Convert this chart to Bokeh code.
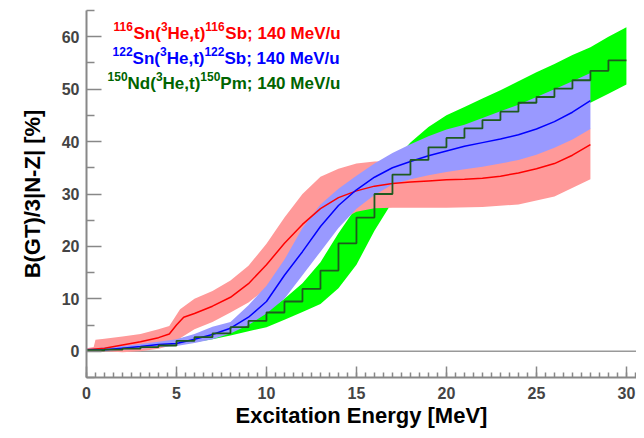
from bokeh.plotting import figure
from bokeh.models import Range1d, Label, Span, FixedTicker
from bokeh.embed import file_html
from bokeh.resources import INLINE

# ---------------- data ----------------
# 116Sn(3He,t)116Sb  (red)
red_x = [0, 1, 2, 3, 4, 4.6, 5.0, 5.4, 6, 7, 8, 9, 10, 11, 12, 13, 14, 15, 16, 17, 18,
         19, 20, 21, 22, 23, 24, 25, 26, 27, 28]
red_y = [0.3, 0.6, 1.2, 1.8, 2.6, 3.3, 5.0, 6.5, 7.2, 8.6, 10.3, 12.9, 16.5, 20.6, 24.2,
         27.2, 29.3, 30.6, 31.5, 32.0, 32.3, 32.5, 32.7, 32.8, 33.0, 33.4, 34.0, 34.8,
         35.8, 37.4, 39.4]
red_band_x = [0, 0.4, 0.5, 1, 2, 3, 4, 4.6, 5.2, 6, 7, 8, 9, 10, 11, 12, 13, 14, 15, 16,
              17, 18, 20, 22, 24, 26, 28]
red_hi = [0.6, 0.8, 2.2, 2.4, 2.8, 3.3, 4.2, 4.8, 8.0, 10.0, 11.5, 13.5, 16.3, 20.5, 25.5,
          30.0, 33.3, 34.8, 35.8, 36.2, 36.3, 36.2, 36.0, 36.2, 37.0, 39.0, 42.5]
red_lo = [0.0, 0.0, 0.0, 0.0, -0.2, 0.0, 0.5, 1.0, 2.5, 4.2, 5.6, 7.4, 9.3, 12.0, 15.5,
          19.0, 22.3, 24.8, 26.6, 27.3, 27.4, 27.4, 27.4, 27.5, 28.0, 29.5, 32.8]

# 122Sn(3He,t)122Sb  (blue)
blue_x = [0, 1, 2, 3, 4, 5, 6, 7, 8, 9, 10, 11, 12, 13, 14, 15, 16, 17, 18, 19, 20, 21,
          22, 23, 24, 25, 26, 27, 28]
blue_y = [0.2, 0.3, 0.6, 0.9, 1.3, 1.5, 2.3, 3.2, 4.4, 6.5, 9.5, 14.5, 19.0, 23.8, 27.8,
          30.8, 33.2, 35.0, 36.2, 37.3, 38.2, 39.1, 39.8, 40.5, 41.3, 42.4, 43.8, 45.6, 47.8]
blue_hi = [0.5, 0.7, 1.0, 1.4, 1.8, 2.3, 3.3, 4.7, 5.6, 8.8, 12.5, 17.5, 23.5, 28.0, 31.0,
           33.5, 35.8, 37.8, 39.5, 41.0, 42.3, 43.2, 44.5, 45.8, 47.0, 48.5, 50.0, 51.5, 53.1]
blue_lo = [0.0, 0.1, 0.3, 0.5, 0.8, 1.0, 1.6, 2.3, 3.4, 5.0, 7.2, 10.0, 14.5, 19.0, 23.5,
           27.2, 29.8, 31.8, 32.8, 33.6, 34.2, 34.7, 35.2, 35.8, 36.5, 37.5, 38.8, 40.4, 42.4]

# 150Nd(3He,t)150Pm  (green): 1 MeV bins
green_edges = [0, 1, 2, 3, 4, 5, 6, 7, 8, 9, 10, 11, 12, 13, 14, 15, 16, 17, 18, 19, 20,
               21, 22, 23, 24, 25, 26, 27, 28, 29, 30]
green_step = [0.2, 0.3, 0.5, 0.8, 1.1, 2.0, 2.7, 3.4, 4.6, 5.8, 7.4, 9.5, 11.9, 15.4, 20.6,
              25.5, 30.0, 33.7, 36.5, 38.9, 40.7, 42.5, 44.1, 45.7, 47.4, 48.5, 50.1, 51.7,
              53.5, 55.5]
green_lo = [0.0, 0.1, 0.3, 0.5, 0.8, 1.2, 1.7, 2.3, 3.0, 3.8, 4.6, 6.0, 7.5, 9.0, 12.0,
            16.5, 23.0, 28.5, 31.8, 33.8, 35.0, 36.0, 37.3, 38.7, 40.2, 41.8, 43.4, 45.0,
            47.4, 49.1, 50.9]
green_hi = [0.5, 0.7, 0.9, 1.3, 1.8, 2.3, 3.0, 3.9, 4.9, 6.2, 7.6, 10.0, 13.0, 17.0, 22.5,
            27.5, 32.0, 36.0, 39.8, 42.8, 45.0, 46.6, 48.2, 49.8, 51.5, 53.2, 54.8, 56.5,
            58.0, 60.0, 61.8]

x_ticks = [0, 5, 10, 15, 20, 25, 30]
y_ticks = [0, 10, 20, 30, 40, 50, 60]

legend_lines = [
    ("#ff0000", [("116", True), ("Sn(", False), ("3", True), ("He,t)", False),
                 ("116", True), ("Sb; 140 MeV/u", False)]),
    ("#0000ff", [("122", True), ("Sn(", False), ("3", True), ("He,t)", False),
                 ("122", True), ("Sb; 140 MeV/u", False)]),
    ("#006400", [("150", True), ("Nd(", False), ("3", True), ("He,t)", False),
                 ("150", True), ("Pm; 140 MeV/u", False)]),
]

# ---------------- figure ----------------
FONT = "Liberation Sans"
p = figure(frame_width=550, frame_height=367, min_border_left=86, min_border_right=0,
           min_border_top=10, min_border_bottom=53, output_backend="svg",
           toolbar_location=None, x_range=Range1d(0, 30.56), y_range=Range1d(-5, 65))
p.outline_line_color = None
p.grid.visible = False
p.background_fill_color = "white"

p.add_layout(Span(location=0, dimension="width", line_color="#999999",
                  line_width=1.5, level="underlay"))

# bands
p.varea(x=green_edges, y1=green_lo, y2=green_hi, fill_color="#00ff00")
p.varea(x=red_band_x, y1=red_lo, y2=red_hi, fill_color="#ff9999")
p.varea(x=blue_x, y1=blue_lo, y2=blue_hi, fill_color="#9999ff")

# central values
p.line(red_x, red_y, line_color="#ff0000", line_width=1.5)
p.line(blue_x, blue_y, line_color="#0000ff", line_width=1.5)
p.step(green_edges, green_step + [green_step[-1]], mode="after",
       line_color="#1e5a1e", line_width=1.8)

# axes
for ax in (p.xaxis[0], p.yaxis[0]):
    ax.axis_line_color = "#888888"
    ax.axis_line_width = 2
    ax.major_tick_line_color = "#888888"
    ax.minor_tick_line_color = "#888888"
    ax.major_tick_line_width = 1.5
    ax.minor_tick_line_width = 1.5
    ax.major_tick_out = 0
    ax.minor_tick_out = 0
    ax.major_label_text_font = FONT
    ax.major_label_text_font_style = "bold"
    ax.major_label_text_font_size = "16px"
    ax.major_label_text_color = "#444444"
    ax.axis_label_text_font = FONT
    ax.axis_label_text_font_style = "bold"
    ax.axis_label_text_font_size = "22px"
    ax.axis_label_text_color = "#000000"

p.xaxis.ticker = FixedTicker(ticks=x_ticks,
                             minor_ticks=[i * 0.5 for i in range(0, 62)])
p.yaxis.ticker = FixedTicker(ticks=y_ticks, minor_ticks=[-5, 5, 15, 25, 35, 45, 55, 65])
p.xaxis.major_tick_in = 11
p.xaxis.minor_tick_in = 5
p.yaxis.major_tick_in = 15
p.yaxis.minor_tick_in = 8
p.xaxis.major_label_standoff = 9
p.yaxis.major_label_standoff = 7
p.xaxis.axis_label = "Excitation Energy [MeV]"
p.yaxis.axis_label = "B(GT)/3|N-Z| [%]"
p.xaxis.axis_label_standoff = 1
p.yaxis.axis_label_standoff = 14

# legend text (Arial/Liberation Sans Bold advance widths, per 1000 em)
W = {" ": 278, "(": 333, ")": 333, ",": 278, "/": 278, ";": 333, "B": 722, "H": 722,
     "M": 833, "N": 722, "P": 667, "S": 667, "V": 667, "b": 611, "d": 611, "e": 556,
     "m": 889, "n": 611, "t": 333, "u": 611}
for d in "0123456789":
    W[d] = 556

legend_x = [1.5, 1.45, 1.17]
legend_y = [60.55, 55.8, 51.0]
for (color, parts), lx, ly in zip(legend_lines, legend_x, legend_y):
    off = 0.0
    for txt, sup in parts:
        size = 12 if sup else 17
        p.add_layout(Label(x=lx, y=ly, x_offset=off, y_offset=7.5 if sup else 0,
                           text=txt, text_font=FONT, text_font_style="bold",
                           text_font_size=f"{size}px", text_color=color,
                           text_baseline="alphabetic", text_align="left"))
        off += sum(W[c] for c in txt) * size / 1000.0

open("out.html", "w").write(file_html(p, INLINE))
